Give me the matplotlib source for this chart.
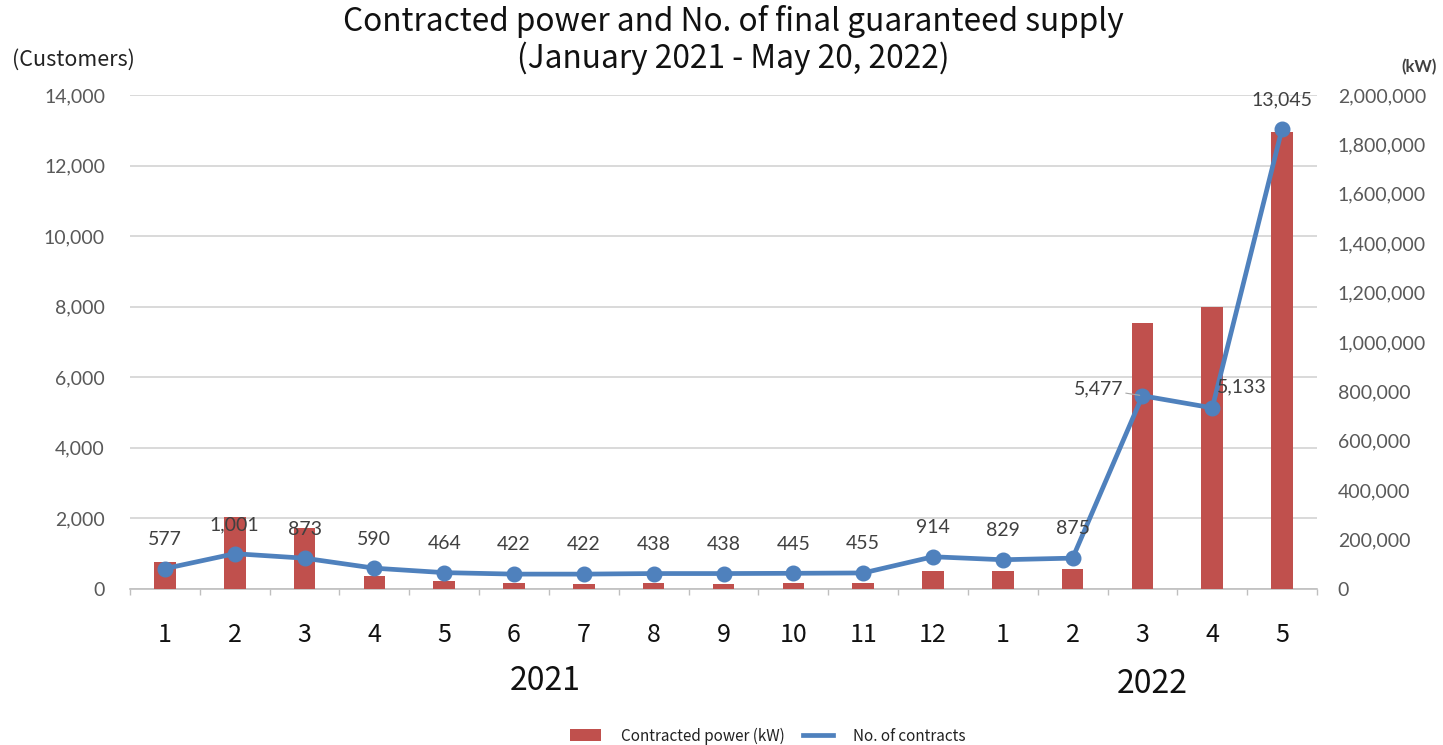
import numpy as np
import matplotlib
matplotlib.use("Agg")
import matplotlib.pyplot as plt
from matplotlib.patches import Patch
from matplotlib.lines import Line2D

# Monthly figures, January 2021 - May 2022
months = ["1", "2", "3", "4", "5", "6", "7", "8", "9", "10", "11", "12",
          "1", "2", "3", "4", "5"]
contracts = [577, 1001, 873, 590, 464, 422, 422, 438, 438, 445, 455, 914,
             829, 875, 5477, 5133, 13045]
power_kw = [108000, 290000, 245000, 51000, 34000, 25000, 21000, 23000, 21000,
            23000, 26000, 72000, 72000, 79000, 1077000, 1140000, 1851000]
years = ["2021", "2022"]
customer_ticks = list(range(0, 14001, 2000))
kw_ticks = list(range(0, 2000001, 200000))

BAR_COLOR = "#C0504D"
LINE_COLOR = "#4F81BD"
TICK_COLOR = "#595959"
GRID_COLOR = "#D9D9D9"
NARROW = ["Liberation Sans Narrow", "Noto Sans CJK JP", "DejaVu Sans"]
JP = ["Noto Sans CJK JP", "DejaVu Sans"]
NUM = ["Lato", "DejaVu Sans"]

W, H = 1443, 745
fig = plt.figure(figsize=(W / 100, H / 100), dpi=100)


def fx(px):
    return px / W


def fy(py):
    return 1 - py / H


rect = [fx(130), fy(589), fx(1317) - fx(130), fy(95) - fy(589)]
x = np.arange(len(months))

# Customers axis: grid, left ticks, month labels
ax_c = fig.add_axes(rect)
ax_c.set_xlim(-0.5, len(months) - 0.5)
ax_c.set_ylim(0, 14000)
ax_c.set_yticks(customer_ticks)
ax_c.set_yticklabels([f"{v:,}" for v in customer_ticks], fontfamily=NUM,
                     fontsize=14, color=TICK_COLOR)
ax_c.grid(axis="y", color=GRID_COLOR, lw=1.4)
ax_c.set_axisbelow(True)
ax_c.tick_params(axis="y", length=0, pad=18)
ax_c.set_xticks(x)
ax_c.set_xticklabels(months, fontfamily=NARROW, fontsize=18, color="#111111")
ax_c.set_xticks(np.arange(-0.5, len(months), 1), minor=True)
ax_c.tick_params(axis="x", which="major", length=0, pad=24)
ax_c.tick_params(axis="x", which="minor", length=4, color="#BFBFBF", width=1)
for s in ["left", "right", "top"]:
    ax_c.spines[s].set_visible(False)
ax_c.spines["bottom"].set_color("#BFBFBF")
ax_c.spines["bottom"].set_linewidth(1.2)

# Contracted power bars on the right-hand kW axis
ax_kw = ax_c.twinx()
ax_kw.set_ylim(0, 2000000)
ax_kw.bar(x, power_kw, width=0.31, color=BAR_COLOR, zorder=2)
ax_kw.set_yticks(kw_ticks)
ax_kw.set_yticklabels([f"{v:,}" for v in kw_ticks], fontfamily=NUM,
                      fontsize=14, color=TICK_COLOR)
ax_kw.tick_params(axis="y", length=0, pad=15)
for s in ax_kw.spines.values():
    s.set_visible(False)

# Number of contracts line, drawn on top of the bars
ax_n = ax_c.twinx()
ax_n.set_ylim(0, 14000)
ax_n.yaxis.set_visible(False)
for s in ax_n.spines.values():
    s.set_visible(False)
ax_n.plot(x, contracts, color=LINE_COLOR, lw=3.4, marker="o", markersize=10.5,
          solid_capstyle="round", zorder=3)

label_style = dict(fontfamily=NUM, fontsize=14, color="#404040",
                   textcoords="offset points", va="center")
for i, v in enumerate(contracts):
    if i == 14:
        ax_n.annotate(f"{v:,}", (x[i], v), xytext=(-14, 5), ha="right",
                      arrowprops=dict(arrowstyle="-", color="#A6A6A6", lw=0.8,
                                      shrinkA=0, shrinkB=2),
                      **label_style)
    elif i == 15:
        ax_n.annotate(f"{v:,}", (x[i], v), xytext=(3, 15), ha="left",
                      **label_style)
    else:
        ax_n.annotate(f"{v:,}", (x[i], v), xytext=(0, 21), ha="center",
                      **label_style)

# Title and axis unit captions
fig.text(fx(733), fy(40),
         "Contracted power and No. of final guaranteed supply\n"
         "(January 2021 - May 20, 2022)",
         ha="center", va="center", fontfamily=JP, fontsize=22.8,
         linespacing=1.15, color="#111111")
fig.text(fx(12), fy(60), "(Customers)", ha="left", va="center",
         fontfamily=JP, fontsize=15.5, color="#222222")
fig.text(fx(1437), fy(67), "(kW)", ha="right", va="center",
         fontfamily=NUM, fontsize=12, fontweight="bold", color="#404040")

# Year captions under the month labels
fig.text(fx(545), fy(681), years[0], ha="center", va="center",
         fontfamily=NARROW, fontsize=23, color="#111111")
fig.text(fx(1152), fy(684), years[1], ha="center", va="center",
         fontfamily=NARROW, fontsize=23, color="#111111")

handles = [Patch(facecolor=BAR_COLOR, edgecolor="none"),
           Line2D([0], [0], color=LINE_COLOR, lw=3.4)]
fig.legend(handles, ["Contracted power (kW)", "No. of contracts"],
           loc="center", bbox_to_anchor=(fx(768), fy(736)), ncol=2,
           frameon=False, prop=dict(family=NARROW, size=11),
           handlelength=2.0, handleheight=0.8, handletextpad=1.3,
           columnspacing=1.2, borderpad=0, labelcolor="#222222")

fig.savefig("out.png", dpi=100)
